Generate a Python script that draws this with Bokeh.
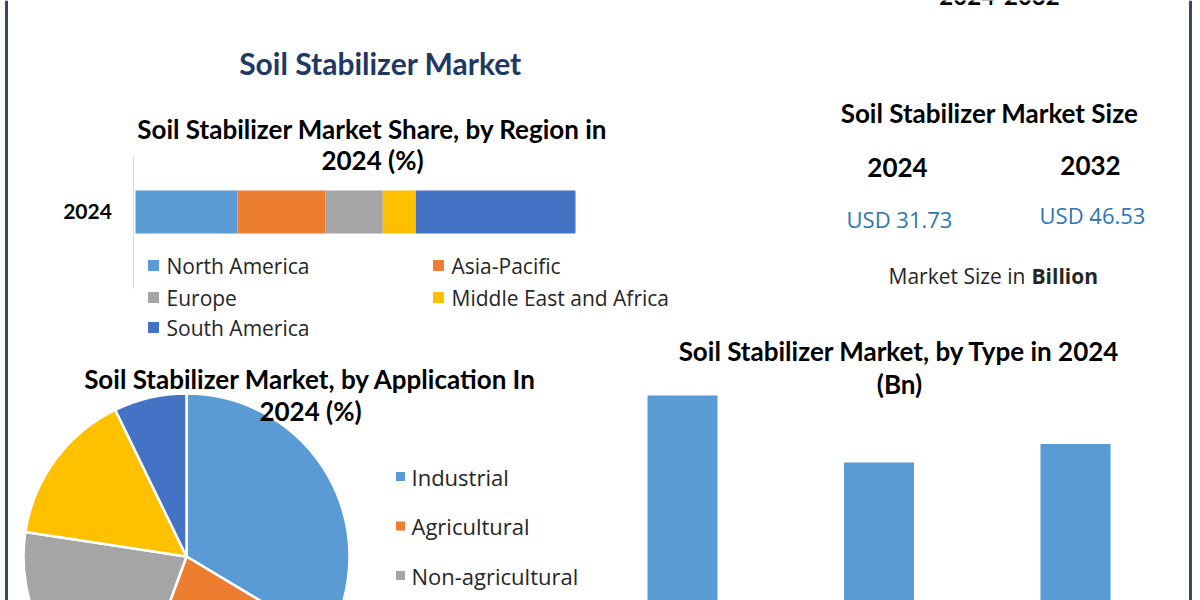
import numpy as np
from bokeh.plotting import figure
from bokeh.models import Range1d
from bokeh.embed import file_html
from bokeh.resources import INLINE
from bokeh.core.properties import value

# ---------------- data ----------------
regions = ["North America", "Asia-Pacific", "Europe", "Middle East and Africa", "South America"]
region_share = [23.2, 20.0, 13.0, 7.5, 36.3]
region_year = ["2024"]

applications = ["Industrial", "Agricultural", "Non-agricultural", "Construction", "Others"]
application_share = [33.6, 22.0, 21.8, 15.4, 7.2]

types = ["Polymers", "Minerals & Stabilizing Agents", "Others"]
type_value_bn = [12.75, 8.97, 10.01]

size_years = ["2024", "2032"]
size_values = [31.73, 46.53]

palette = ["#5B9BD5", "#ED7D31", "#A5A5A5", "#FFC000", "#4472C4"]

# ---------------- canvas ----------------
W, H = 1200, 600
TITLE_FONT = value("Lato")
BODY_FONT = value("Open Sans")
TITLE_SIZE = 26


def Y(y_img):
    return H - y_img


p = figure(width=W, height=H, x_range=Range1d(0, W), y_range=Range1d(0, H),
           output_backend="svg", toolbar_location=None, min_border=0,
           x_axis_type=None, y_axis_type=None, outline_line_color=None,
           background_fill_color="white", border_fill_color="white")
p.xgrid.visible = False
p.ygrid.visible = False


def txt(x, y, s, size, bold=False, color="#000000", align="center", font=TITLE_FONT):
    p.text(x=[x], y=[Y(y)], text=[s], text_font=font, text_font_size=f"{size}px",
           text_font_style="bold" if bold else "normal", text_color=color,
           text_align=align, text_baseline="middle")


# frame borders
p.segment(x0=[6, 1190], y0=[0, 0], x1=[6, 1190], y1=[H, H], line_color="#34495E", line_width=3)

# header line (cut off at the top edge, as in the source image)
p.text(x=[999], y=[Y(4)], text=[f"{size_years[0]}-{size_years[1]}"], text_font=TITLE_FONT,
       text_font_size="24px", text_font_style="bold", text_color="#000000",
       text_align="center", text_baseline="bottom")

# main title
txt(380, 62, "Soil Stabilizer Market", 30, True, "#1F3864")

# ---------------- stacked region bar ----------------
txt(372, 128, "Soil Stabilizer Market Share, by Region in", TITLE_SIZE, True)
txt(372, 159, "2024 (%)", TITLE_SIZE, True)

bar_l_px, bar_r_px = 135.0, 575.0
total = float(sum(region_share))
units_per_px = total / (bar_r_px - bar_l_px)
p.extra_x_ranges["share"] = Range1d(-bar_l_px * units_per_px, (W - bar_l_px) * units_per_px)
right = np.cumsum(region_share)
left = right - np.array(region_share)
p.hbar(y=Y(211.5), left=left, right=right, height=43, fill_color=palette, line_color=None,
       x_range_name="share")
p.segment(x0=[133], y0=[Y(155)], x1=[133], y1=[Y(288)], line_color="#D9D9D9", line_width=1)
txt(87, 211, region_year[0], 21, True)

# legend (2 columns)
leg_cols_x = [153, 438]
leg_rows_y = [265, 297, 327]
for i, (name, col) in enumerate(zip(regions, palette)):
    cx = leg_cols_x[i % 2]
    cy = leg_rows_y[i // 2]
    p.rect(x=[cx], y=[Y(cy)], width=11, height=11, fill_color=col, line_color=None)
    txt(cx + 13, cy, name, 21, False, "#262626", "left", BODY_FONT)

# ---------------- market size block ----------------
txt(989, 112, "Soil Stabilizer Market Size", TITLE_SIZE, True)
size_x = [897, 1090]
size_year_y = [167, 165]
size_val_y = [218, 214]
for xx, yr, v, yy, vy in zip(size_x, size_years, size_values, size_year_y, size_val_y):
    txt(xx, yy, yr, 26, True)
    txt(xx + 2, vy, f"USD {v:.2f}", 22, False, "#2E75B6", "center", BODY_FONT)
txt(1025, 275, "Market Size in", 21, False, "#262626", "right", BODY_FONT)
txt(1031, 275, "Billion", 21, True, "#262626", "left", BODY_FONT)

# ---------------- application pie ----------------
pie_cx, pie_cy, pie_r = 186, 556, 163
frac = np.array(application_share) / sum(application_share)
cum = np.cumsum(frac)
start = np.pi / 2 - 2 * np.pi * (cum - frac)
end = np.pi / 2 - 2 * np.pi * cum
p.wedge(x=pie_cx, y=Y(pie_cy), radius=pie_r, start_angle=start, end_angle=end,
        direction="clock", fill_color=palette, line_color="white", line_width=2.5)
txt(310, 378, "Soil Stabilizer Market, by Application In", TITLE_SIZE, True)
txt(310, 410, "2024 (%)", TITLE_SIZE, True)
for i, (name, col) in enumerate(zip(applications, palette)):
    cy = 476 + 49.5 * i
    if cy > H - 12:
        break  # remaining legend rows fall below the visible area
    p.rect(x=[400], y=[Y(cy)], width=9, height=9, fill_color=col, line_color=None)
    txt(411, cy, name, 22, False, "#262626", "left", BODY_FONT)

# ---------------- type bar chart ----------------
txt(899, 350, "Soil Stabilizer Market, by Type in 2024", TITLE_SIZE, True)
txt(899, 383, "(Bn)", TITLE_SIZE, True)
first_px, step_px = 682.0, 196.5
p.extra_x_ranges["type"] = Range1d(-first_px / step_px, (W - first_px) / step_px)
base_img_y, px_per_bn = 620.9, 17.72
p.extra_y_ranges["type"] = Range1d((base_img_y - H) / px_per_bn, base_img_y / px_per_bn)
p.vbar(x=list(range(len(types))), top=type_value_bn, bottom=0, width=70 / step_px,
       fill_color=palette[0], line_color=None, x_range_name="type", y_range_name="type")

open("out.html", "w").write(file_html(p, INLINE))
